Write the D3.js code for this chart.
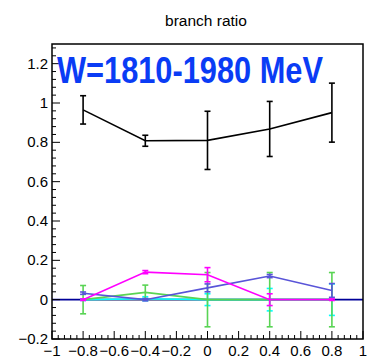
<!DOCTYPE html>
<html>
<head>
<meta charset="utf-8">
<script src="https://cdn.jsdelivr.net/npm/d3@7.9.0/dist/d3.min.js"></script>
<style>
  body { margin: 0; background: #fff; }
  svg { display: block; font-family: 'Liberation Sans', Arial, sans-serif; }
</style>
</head>
<body>
<svg id="chart" width="371" height="361"></svg>
<script>
const xs = [-0.8, -0.4, 0, 0.4, 0.8];

const blackVals = [0.965, 0.808, 0.81, 0.868, 0.951];
const blackErrs = [0.072, 0.028, 0.148, 0.14, 0.15];
const magentaVals = [0, 0.14, 0.127, 0, 0];
const magentaErrs = [0.004, 0.008, 0.036, 0.03, 0.004];
const blueVals = [0.033, 0.0, 0.06, 0.12, 0.047];
const blueErrs = [0.006, 0.006, 0.02, 0.008, 0.035];
const greenVals = [0, 0.037, 0, 0, 0];
const greenErrs = [0.072, 0.037, 0.138, 0.138, 0.138];
const cyanVals = [0, 0.005, 0, 0, 0];
const cyanErrs = [0.004, 0.01, 0.03, 0.057, 0.08];
const greyVals = [0, 0, 0, 0, 0];
const greyErrs = [0, 0, 0, 0, 0];

const series = [
  { color: '#888888', vals: greyVals, errs: greyErrs },
  { color: '#00ffff', vals: cyanVals, errs: cyanErrs },
  { color: '#59d454', vals: greenVals, errs: greenErrs },
  { color: '#5954d8', vals: blueVals, errs: blueErrs },
  { color: '#ff00ff', vals: magentaVals, errs: magentaErrs },
  { color: '#000000', vals: blackVals, errs: blackErrs }
];

const xTicks = d3.range(-1, 1.0001, 0.2).map(v => +v.toFixed(2));
const yTicks = d3.range(-0.2, 1.2001, 0.2).map(v => +v.toFixed(2));

const padL = 52, padR = 363, padT = 44, padB = 339;
const x = d3.scaleLinear().domain([-1, 1]).range([padL, padR]);
const y = d3.scaleLinear().domain([-0.2, 1.3]).range([padB, padT]);

const svg = d3.select('#chart');

// title
svg.append('text')
  .attr('x', 206).attr('y', 26)
  .attr('text-anchor', 'middle')
  .attr('font-size', 15.5)
  .attr('fill', '#000')
  .text('branch ratio');

// zero line
svg.append('line')
  .attr('x1', x(-1)).attr('x2', x(1))
  .attr('y1', y(0)).attr('y2', y(0))
  .attr('stroke', '#000099').attr('stroke-width', 1.8);

// series
const line = d3.line().x(d => x(d[0])).y(d => y(d[1]));
series.forEach(s => {
  const pts = xs.map((v, i) => [v, s.vals[i], s.errs[i]]);
  const g = svg.append('g').attr('stroke', s.color).attr('fill', 'none').attr('stroke-width', 1.6);
  g.append('path').attr('d', line(pts));
  pts.filter(p => p[2] > 0).forEach(p => {
    const cx = x(p[0]);
    g.append('line').attr('x1', cx).attr('x2', cx).attr('y1', y(p[1] - p[2])).attr('y2', y(p[1] + p[2]));
    [p[1] - p[2], p[1] + p[2]].forEach(v => {
      g.append('line').attr('x1', cx - 3).attr('x2', cx + 3).attr('y1', y(v)).attr('y2', y(v));
    });
  });
});

// frame
svg.append('rect')
  .attr('x', padL).attr('y', padT)
  .attr('width', padR - padL).attr('height', padB - padT)
  .attr('fill', 'none').attr('stroke', '#000').attr('stroke-width', 1.5);

// x ticks (inside)
const xMinor = d3.range(-1, 1.0001, 0.04);
svg.append('g').selectAll('line').data(xMinor).join('line')
  .attr('x1', d => x(d)).attr('x2', d => x(d))
  .attr('y1', padB).attr('y2', (d, i) => padB - (i % 5 === 0 ? 8 : 4))
  .attr('stroke', '#000').attr('stroke-width', 1);

svg.append('g').selectAll('text').data(xTicks).join('text')
  .attr('x', d => x(d)).attr('y', 356)
  .attr('text-anchor', 'middle')
  .attr('font-size', 15)
  .text(d => d3.format('')(d));

// y ticks (inside)
const yMinor = d3.range(-0.2, 1.3001, 0.04);
svg.append('g').selectAll('line').data(yMinor).join('line')
  .attr('x1', padL).attr('x2', (d, i) => padL + (i % 5 === 0 ? 8 : 4))
  .attr('y1', d => y(d)).attr('y2', d => y(d))
  .attr('stroke', '#000').attr('stroke-width', 1);

svg.append('g').selectAll('text').data(yTicks).join('text')
  .attr('x', 48).attr('y', d => y(d) + 5)
  .attr('text-anchor', 'end')
  .attr('font-size', 15)
  .text(d => d3.format('')(d));

// label
svg.append('text')
  .attr('x', 57).attr('y', 83)
  .attr('font-size', 36).attr('font-weight', 'bold')
  .attr('fill', '#0a3cf5')
  .attr('textLength', 266).attr('lengthAdjust', 'spacingAndGlyphs')
  .text('W=1810-1980 MeV');
</script>
</body>
</html>
